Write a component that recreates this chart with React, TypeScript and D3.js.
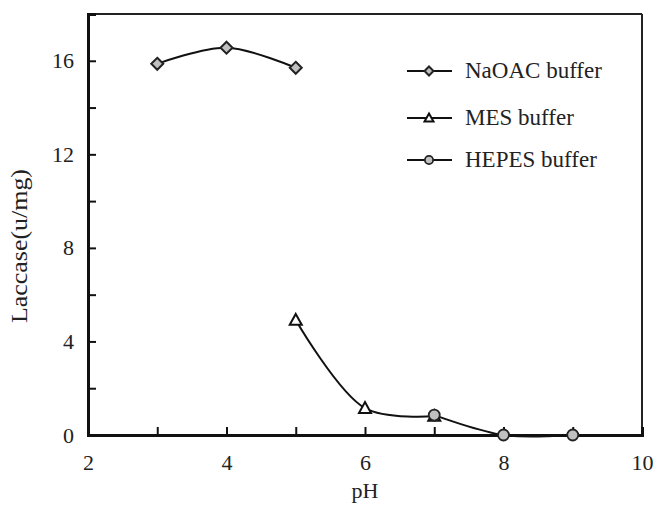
import * as d3 from "d3";
import { useRef, useEffect } from "react";

const naoacX = [3, 4, 5];
const naoacY = [15.87, 16.56, 15.7];
const mesX = [5, 6, 7];
const mesY = [4.92, 1.15, 0.81];
const hepesX = [7, 8, 9];
const hepesY = [0.85, 0, 0];
const xTickLabels = [2, 4, 6, 8, 10];
const yTickLabels = [0, 4, 8, 12, 16];
const legendNames = ["NaOAC buffer", "MES buffer", "HEPES buffer"];

const W = 657, H = 505;
const margin = { top: 14, right: 15, bottom: 70, left: 88 };
const FONT = "'Liberation Serif', 'DejaVu Serif', serif";

const App = () => {
    const chartRef = useRef(null);

    useEffect(() => {
        document.body.style.margin = '0';
        document.body.style.overflow = 'hidden';
        const svg = d3.select(chartRef.current);
        svg.selectAll('*').remove();

        const x = d3.scaleLinear().domain([2, 10]).range([margin.left, W - margin.right]);
        const y = d3.scaleLinear().domain([0, 18]).range([H - margin.bottom, margin.top]);

        svg.append('rect').attr('width', W).attr('height', H).attr('fill', '#fff');

        // frame (top/right thinner)
        svg.append('line')
           .attr('x1', x(2)).attr('x2', x(10)).attr('y1', y(18)).attr('y2', y(18))
           .attr('stroke', '#222').attr('stroke-width', 2);
        svg.append('line')
           .attr('x1', x(10)).attr('x2', x(10)).attr('y1', y(18)).attr('y2', y(0))
           .attr('stroke', '#222').attr('stroke-width', 2);

        const xAxis = d3.axisBottom(x)
            .tickValues(d3.range(2, 11, 1))
            .tickSize(-8)
            .tickFormat(d => xTickLabels.includes(+d) ? String(d) : '');
        const gx = svg.append('g')
           .attr('transform', `translate(0, ${y(0)})`)
           .call(xAxis);
        gx.select('.domain').attr('stroke', '#111').attr('stroke-width', 3);
        gx.selectAll('.tick line').attr('stroke', '#111').attr('stroke-width', 2);
        gx.selectAll('.tick text')
          .attr('y', 19)
          .style('font-family', FONT).style('font-size', '22px').attr('fill', '#222');

        const yAxis = d3.axisLeft(y)
            .tickValues(d3.range(0, 17, 2))
            .tickSize(-8)
            .tickFormat(d => yTickLabels.includes(+d) ? String(d) : '');
        const gy = svg.append('g')
           .attr('transform', `translate(${x(2)}, 0)`)
           .call(yAxis);
        gy.select('.domain').attr('stroke', '#111').attr('stroke-width', 3);
        gy.selectAll('.tick line').attr('stroke', '#111').attr('stroke-width', 2);
        gy.selectAll('.tick text')
          .attr('x', -14)
          .style('font-family', FONT).style('font-size', '22px').attr('fill', '#222');

        svg.append('text')
           .attr('x', (x(2) + x(10)) / 2).attr('y', 498)
           .attr('text-anchor', 'middle')
           .style('font-family', FONT).style('font-size', '22px').attr('fill', '#222')
           .text('pH');
        svg.append('text')
           .attr('transform', `translate(27, 246) rotate(-90)`)
           .attr('text-anchor', 'middle')
           .attr('textLength', 154).attr('lengthAdjust', 'spacingAndGlyphs')
           .style('font-family', FONT).style('font-size', '23px').attr('fill', '#222')
           .text('Laccase(u/mg)');

        const line = d3.line<[number, number]>()
            .x(d => x(d[0])).y(d => y(d[1]))
            .curve(d3.curveCatmullRom.alpha(0.5));

        const series = [
            { xs: naoacX, ys: naoacY, shape: 'diamond' },
            { xs: mesX, ys: mesY, shape: 'triangle' },
            { xs: hepesX, ys: hepesY, shape: 'circle' },
        ];

        const drawMarker = (g, shape, cx, cy, scale = 1) => {
            if (shape === 'diamond') {
                const s = 6 * scale;
                g.append('path')
                 .attr('d', `M${cx},${cy - s}L${cx + s},${cy}L${cx},${cy + s}L${cx - s},${cy}Z`)
                 .attr('fill', '#c0c0c0').attr('stroke', '#222').attr('stroke-width', 2);
            } else if (shape === 'triangle') {
                const s = 6 * scale;
                g.append('path')
                 .attr('d', `M${cx},${cy - s}L${cx + s},${cy + s * 0.8}L${cx - s},${cy + s * 0.8}Z`)
                 .attr('fill', '#fff').attr('stroke', '#111').attr('stroke-width', 2);
            } else {
                g.append('circle')
                 .attr('cx', cx).attr('cy', cy).attr('r', 5.5 * scale)
                 .attr('fill', '#c0c0c0').attr('stroke', '#222').attr('stroke-width', 1.8);
            }
        };

        series.forEach(s => {
            const pts = s.xs.map((v, i) => [v, s.ys[i]] as [number, number]);
            svg.append('path')
               .attr('d', line(pts))
               .attr('fill', 'none').attr('stroke', '#111').attr('stroke-width', 2);
        });
        series.forEach(s => {
            const g = svg.append('g');
            s.xs.forEach((v, i) => drawMarker(g, s.shape, x(v), y(s.ys[i])));
        });

        // legend
        const legendY = [71, 118, 160];
        legendNames.forEach((name, i) => {
            const g = svg.append('g');
            g.append('line')
             .attr('x1', 407).attr('x2', 452).attr('y1', legendY[i]).attr('y2', legendY[i])
             .attr('stroke', '#111').attr('stroke-width', 2);
            drawMarker(g, series[i].shape, 429, legendY[i], 0.75);
            g.append('text')
             .attr('x', 465).attr('y', legendY[i] + 7)
             .style('font-family', FONT).style('font-size', '23px').attr('fill', '#222')
             .text(name);
        });
    }, []);

    return (
        <svg ref={chartRef} width={W} height={H} style={{ display: 'block' }}></svg>
    );
};

export default App;
